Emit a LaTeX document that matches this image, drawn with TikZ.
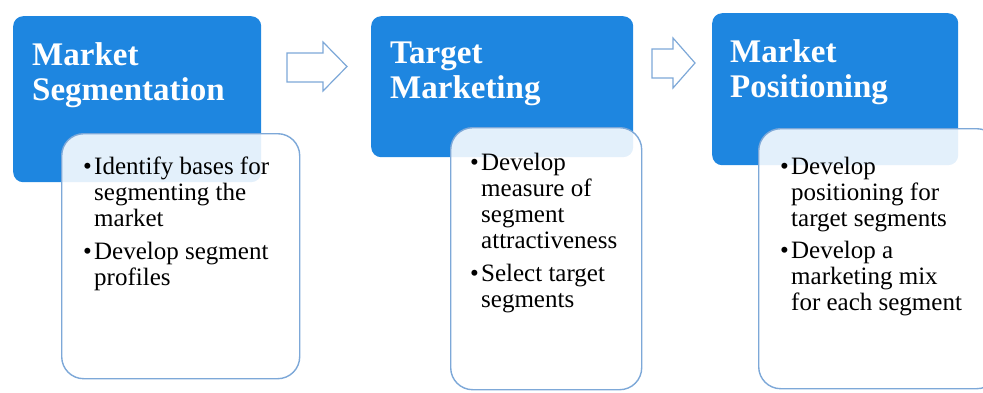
\documentclass[tikz,border=0pt]{standalone}
\usepackage{fontspec}
\setmainfont{Liberation Serif}
\definecolor{boxblue}{HTML}{1E86E0}
\definecolor{edgeblue}{HTML}{7DA8D8}
\tikzset{
  x=1bp, y=-1bp,
  bluebox/.style={fill=boxblue, draw=none, rounded corners=10bp, anchor=north west, inner sep=0},
  whitebox/.style={fill=white, fill opacity=0.88, draw=edgeblue, line width=1.4bp, rounded corners=22bp, anchor=north west, inner sep=0},
  titletext/.style={text=white, font=\fontsize{33bp}{35bp}\selectfont\bfseries, align=left, anchor=base west, inner sep=0},
  bodytext/.style={text=black, font=\fontsize{25bp}{26bp}\selectfont, align=left, anchor=base west, inner sep=0},
  arrowshape/.style={draw=edgeblue, fill=white, line width=1.2bp, line join=miter},
}
\newcommand{\bul}{\makebox[11bp][l]{\textbullet}}
\newcommand{\ind}{\hspace*{11bp}}
\begin{document}
\begin{tikzpicture}
\useasboundingbox (0,0) rectangle (983,392);
% blue boxes
\node[bluebox, minimum width=248bp, minimum height=166bp] (b1) at (13,16) {};
\node[bluebox, minimum width=262bp, minimum height=141bp] (b2) at (371,16) {};
\node[bluebox, minimum width=246bp, minimum height=152bp] (b3) at (712,13) {};
% white boxes
\node[whitebox, minimum width=238bp, minimum height=245bp] (w1) at (61,133) {};
\node[whitebox, minimum width=191bp, minimum height=262bp] (w2) at (450,127) {};
\node[whitebox, minimum width=240bp, minimum height=260bp] (w3) at (758,128) {};
% titles (anchor = baseline of last line)
\node[titletext] (t1) at (32,100) {Market\\Segmentation};
\node[titletext] (t2) at (390,98) {Target\\Marketing};
\node[titletext] (t3) at (730,97) {Market\\Positioning};
% bodies (anchor = baseline of last line)
\node[bodytext] (c1) at (83,285) {\bul Identify bases for\\ \ind segmenting the\\ \ind market\\[7bp] \bul Develop segment\\ \ind profiles};
\node[bodytext] (c2) at (470,307) {\bul Develop\\ \ind measure of\\ \ind segment\\ \ind attractiveness\\[7bp] \bul Select target\\ \ind segments};
\node[bodytext] (c3) at (780,310) {\bul Develop\\ \ind positioning for\\ \ind target segments\\[6bp] \bul Develop a\\ \ind marketing mix\\ \ind for each segment};
% arrows
\draw[arrowshape] (287,53) -- (323,53) -- (323,42) -- (347,66.5) -- (323,91) -- (323,82) -- (287,82) -- cycle;
\draw[arrowshape] (652,49) -- (673,49) -- (673,38) -- (695,63) -- (673,88) -- (673,78) -- (652,78) -- cycle;
\end{tikzpicture}
\end{document}
